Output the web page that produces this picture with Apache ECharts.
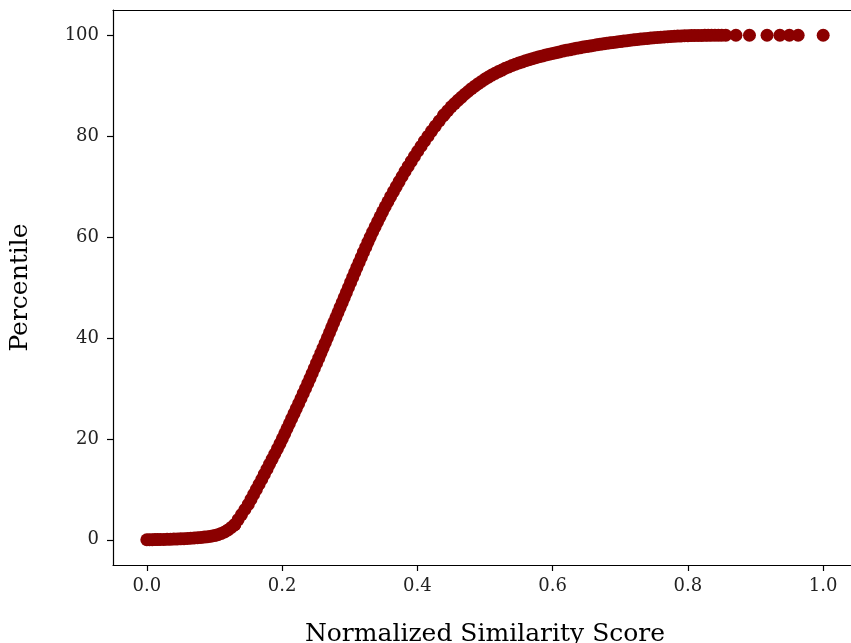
<!DOCTYPE html>
<html>
<head>
<meta charset="utf-8">
<script src="https://cdn.jsdelivr.net/npm/echarts@6/dist/echarts.min.js"></script>
<style>
  html, body { margin: 0; padding: 0; background: #fff; overflow: hidden; }
  #chart { width: 851px; height: 643px; }
</style>
</head>
<body>
<div id="chart"></div>
<script>
// low end of the curve, read by score
const lowScore = [0.000, 0.004, 0.008, 0.012, 0.016, 0.020, 0.025, 0.030, 0.035, 0.040, 0.045, 0.050, 0.055, 0.060,
  0.065, 0.070, 0.075, 0.080, 0.085, 0.090, 0.095, 0.100, 0.105, 0.110, 0.115, 0.120, 0.125, 0.130];
const lowPct = [0, 0.01, 0.02, 0.03, 0.04, 0.05, 0.07, 0.09, 0.11, 0.13, 0.16, 0.19, 0.22, 0.26,
  0.30, 0.35, 0.40, 0.46, 0.53, 0.61, 0.71, 0.84, 1.0, 1.25, 1.55, 1.95, 2.45, 3.0];

// steep middle, read by percentile
const midPct = [3, 4, 5, 6, 7, 8, 9, 10, 11, 12, 13, 14, 15, 16, 17, 18, 19, 20, 21, 22, 23, 24, 25, 26, 27, 28, 29,
  30, 31, 32, 33, 34, 35, 36, 37, 38, 39, 40, 41, 42, 43, 44, 45, 46, 47, 48, 49, 50, 51, 52, 53, 54, 55, 56, 57,
  58, 59, 60, 61, 62, 63, 64, 65, 66, 67, 68, 69, 70, 71, 72, 73, 74, 75, 76, 77, 78, 79, 80, 81, 82, 83, 84];
const midScore = [0.130, 0.135, 0.140, 0.145, 0.150, 0.154, 0.158, 0.162, 0.166, 0.170, 0.1738, 0.1777, 0.1815,
  0.1854, 0.1892, 0.1930, 0.1967, 0.2003, 0.2038, 0.2072, 0.2107, 0.2141, 0.2176, 0.2210, 0.2245, 0.2279, 0.2313,
  0.2347, 0.2380, 0.2413, 0.2445, 0.2477, 0.2510, 0.2542, 0.2574, 0.2606, 0.2638, 0.2669, 0.2700, 0.2731, 0.2762,
  0.2794, 0.2825, 0.2856, 0.2888, 0.2919, 0.2950, 0.2981, 0.3013, 0.3044, 0.3075, 0.3106, 0.3139, 0.3171, 0.3203,
  0.3237, 0.3270, 0.3304, 0.3339, 0.3375, 0.3411, 0.3448, 0.3485, 0.3524, 0.3564, 0.3604, 0.3646, 0.3688, 0.3730,
  0.3774, 0.3818, 0.3864, 0.3910, 0.3957, 0.4005, 0.4055, 0.4105, 0.4158, 0.4211, 0.4266, 0.4324, 0.4382];

// flattening top, read by score
const highScore = [0.440, 0.445, 0.450, 0.455, 0.460, 0.465, 0.470, 0.475, 0.480, 0.485, 0.490, 0.495, 0.500,
  0.505, 0.510, 0.515, 0.520, 0.525, 0.530, 0.535, 0.540, 0.545, 0.550, 0.555, 0.560, 0.565, 0.570, 0.575, 0.580,
  0.585, 0.590, 0.595, 0.600, 0.605, 0.610, 0.615, 0.620, 0.625, 0.630, 0.635, 0.640, 0.645, 0.650, 0.655, 0.660,
  0.665, 0.670, 0.675, 0.680, 0.685, 0.690, 0.695, 0.700, 0.705, 0.710, 0.715, 0.720, 0.725, 0.730, 0.735, 0.740,
  0.745, 0.750, 0.755, 0.760, 0.765, 0.770, 0.775, 0.780, 0.785, 0.790, 0.795, 0.800, 0.805, 0.810, 0.815, 0.820,
  0.825, 0.830, 0.835, 0.840, 0.845, 0.850, 0.856];
const highPct = [84.3, 85.05, 85.8, 86.45, 87.1, 87.7, 88.3, 88.85, 89.4, 89.9, 90.4, 90.85, 91.3,
  91.7, 92.1, 92.45, 92.8, 93.1, 93.45, 93.7, 94.0, 94.25, 94.5, 94.7, 94.95, 95.15, 95.35, 95.55, 95.75,
  95.9, 96.1, 96.25, 96.4, 96.55, 96.7, 96.85, 97.0, 97.1, 97.25, 97.4, 97.5, 97.65, 97.75, 97.85, 97.98,
  98.1, 98.2, 98.3, 98.4, 98.5, 98.58, 98.67, 98.75, 98.84, 98.92, 99.0, 99.08, 99.15, 99.23, 99.3, 99.37,
  99.44, 99.5, 99.56, 99.62, 99.67, 99.72, 99.76, 99.8, 99.84, 99.87, 99.9, 99.92, 99.94, 99.95, 99.96, 99.97,
  99.98, 99.98, 99.99, 99.99, 99.99, 100, 100];

// the few sparse points on the far right
const tailScore = [0.871, 0.891, 0.917, 0.936, 0.950, 0.963, 1.0];
const tailPct = [100, 100, 100, 100, 100, 100, 100];

const xTicks = [0, 0.2, 0.4, 0.6, 0.8, 1.0];
const yTicks = [0, 20, 40, 60, 80, 100];

const points = [];
lowScore.forEach((s, i) => points.push([s, lowPct[i]]));
midScore.forEach((s, i) => points.push([s, midPct[i]]));
highScore.forEach((s, i) => points.push([s, highPct[i]]));
tailScore.forEach((s, i) => points.push([s, tailPct[i]]));

const font = 'DejaVu Serif';
const axisColor = '#000';
const myChart = echarts.init(document.getElementById('chart'));
const option = {
  animation: false,
  grid: {
    left: 113,
    top: 10,
    right: -6, // the plot runs a little past the right edge, like the original
    bottom: 78,
    containLabel: false,
    outerBoundsMode: 'none',
    show: false,
    borderWidth: 0,
    borderColor: 'rgba(0,0,0,0)'
  },
  xAxis: [
    {
      type: 'value',
      min: -0.05,
      max: 1.05,
      name: 'Normalized Similarity Score',
      nameLocation: 'middle',
      nameGap: 57,
      nameTextStyle: { fontFamily: font, fontSize: 25, color: '#000' },
      axisLine: { onZero: false, lineStyle: { color: axisColor, width: 1.2 } },
      axisTick: { show: true, length: 6, customValues: xTicks, lineStyle: { color: axisColor, width: 1.2 } },
      axisLabel: {
        customValues: xTicks,
        margin: 12,
        fontFamily: font,
        fontSize: 18,
        color: '#222',
        formatter: v => v.toFixed(1)
      },
      splitLine: { show: false }
    },
    {
      // top frame line only
      type: 'value',
      position: 'top',
      min: -0.05,
      max: 1.05,
      axisLine: { show: true, onZero: false, lineStyle: { color: axisColor, width: 1.2 } },
      axisTick: { show: false },
      axisLabel: { show: false },
      splitLine: { show: false }
    }
  ],
  yAxis: {
    type: 'value',
    min: -5,
    max: 105,
    name: 'Percentile',
    nameLocation: 'middle',
    nameGap: 80,
    nameRotate: 90,
    nameTextStyle: { fontFamily: font, fontSize: 25, color: '#000' },
    axisLine: { show: true, onZero: false, lineStyle: { color: axisColor, width: 1.2 } },
    axisTick: { show: true, length: 6, customValues: yTicks, lineStyle: { color: axisColor, width: 1.2 } },
    axisLabel: {
      customValues: yTicks,
      margin: 14,
      fontFamily: font,
      fontSize: 18,
      color: '#222',
      formatter: v => String(v)
    },
    splitLine: { show: false }
  },
  series: [
    {
      type: 'scatter',
      xAxisIndex: 0,
      data: points,
      symbol: 'circle',
      symbolSize: 13,
      itemStyle: { color: '#8b0000', opacity: 1 },
      emphasis: { disabled: true }
    }
  ]
};
myChart.setOption(option);
</script>
</body>
</html>
